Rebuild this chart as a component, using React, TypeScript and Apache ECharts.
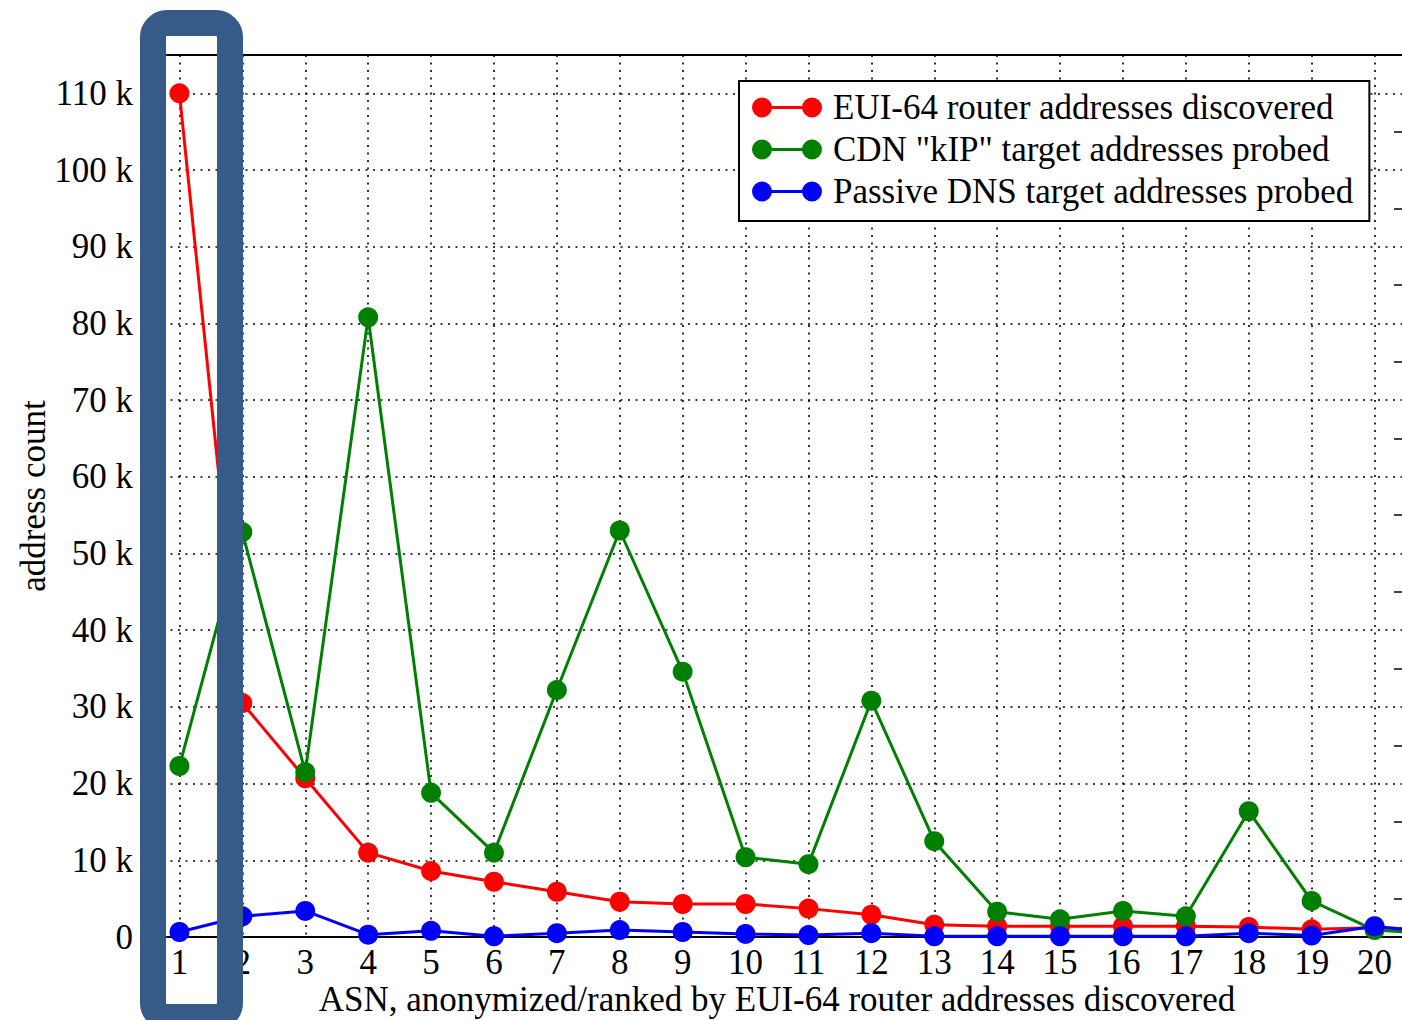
import React, { useEffect, useRef } from "react";
import * as echarts from "echarts";

// ASN rank (x); point 21 only continues the lines past the right edge
const asnRanks = [1, 2, 3, 4, 5, 6, 7, 8, 9, 10, 11, 12, 13, 14, 15, 16, 17, 18, 19, 20, 21];
const xTickValues = [1, 2, 3, 4, 5, 6, 7, 8, 9, 10, 11, 12, 13, 14, 15, 16, 17, 18, 19, 20];

const euiRouters = [110000, 30500, 20700, 11000, 8600, 7200, 5900, 4600, 4300, 4300, 3700, 2900, 1600, 1400, 1400, 1400, 1400, 1300, 1000, 1200, 1000];
const cdnKip = [22300, 52800, 21500, 80800, 18800, 11000, 32200, 53000, 34600, 10400, 9500, 30800, 12500, 3300, 2300, 3400, 2700, 16400, 4700, 900, 400];
const passiveDns = [650, 2700, 3400, 300, 800, 100, 500, 900, 650, 400, 250, 500, 100, 100, 100, 100, 100, 500, 200, 1400, 500];

const seriesNames = [
  "EUI-64 router addresses discovered",
  'CDN "kIP" target addresses probed',
  "Passive DNS target addresses probed",
];
const seriesColors = ["#ff0000", "#008000", "#0000ff"];

const yMax = 115000;
const rightMinorTicks = [5000, 15000, 25000, 35000, 45000, 55000, 65000, 75000, 85000, 95000, 105000];

const FONT = "'Liberation Serif', 'Times New Roman', Times, serif";
const FS = 35;
const LEGEND_ICON =
  "path://M0,10A10,10,0,1,1,20,10A10,10,0,1,1,0,10Z M50,10A10,10,0,1,1,70,10A10,10,0,1,1,50,10Z M18,8.5L52,8.5L52,11.5L18,11.5Z";

const gridLine = {
  show: true,
  lineStyle: { color: "#000", width: 1.6, type: [2, 5.5] as number[] },
};

export default function App() {
  const ref = useRef<HTMLDivElement>(null);

  useEffect(() => {
    document.body.style.margin = "0";
    if (!ref.current) return;
    const chart = echarts.init(ref.current, null, { renderer: "svg" });
    const allSeries = [euiRouters, cdnKip, passiveDns];

    chart.setOption({
      animation: false,
      backgroundColor: "#fff",
      textStyle: { fontFamily: FONT, color: "#000" },
      grid: {
        left: 148,
        top: 55,
        width: 1258,
        bottom: 83,
        containLabel: false,
        outerBoundsMode: "none",
        show: true,
        borderColor: "#000",
        borderWidth: 2,
        backgroundColor: "transparent",
      },
      legend: {
        data: seriesNames,
        orient: "vertical",
        left: 739,
        top: 81,
        padding: [7, 16, 10, 13],
        itemWidth: 70,
        itemHeight: 20,
        itemGap: 3,
        icon: LEGEND_ICON,
        borderColor: "#000",
        borderWidth: 2,
        backgroundColor: "#fff",
        selectedMode: false,
        textStyle: {
          fontFamily: FONT,
          fontSize: FS,
          lineHeight: 39,
          color: "#000",
          padding: [0, 0, 0, 6],
        },
      },
      xAxis: {
        type: "value",
        min: 0.5,
        max: 20.5,
        name: "ASN, anonymized/ranked by EUI-64 router addresses discovered",
        nameLocation: "middle",
        nameGap: 47,
        nameMoveOverlap: false,
        nameTextStyle: { fontFamily: FONT, fontSize: FS, lineHeight: 30, color: "#000" },
        axisLine: { show: true, onZero: true, lineStyle: { color: "#000", width: 2 } },
        axisTick: { show: false, customValues: xTickValues },
        axisLabel: {
          customValues: xTickValues,
          fontFamily: FONT,
          fontSize: FS,
          lineHeight: 30,
          color: "#000",
          margin: 10,
        },
        splitLine: gridLine,
      },
      yAxis: [
        {
          type: "value",
          min: 0,
          max: yMax,
          interval: 10000,
          name: "address count",
          nameLocation: "middle",
          nameGap: 97,
          nameMoveOverlap: false,
          nameTextStyle: { fontFamily: FONT, fontSize: FS, color: "#000" },
          axisLine: { show: true, lineStyle: { color: "#000", width: 2 } },
          axisTick: { show: false },
          axisLabel: {
            fontFamily: FONT,
            fontSize: FS,
            color: "#000",
            margin: 15,
            showMaxLabel: false,
            formatter: (v: number) => (v === 0 ? "0" : v >= yMax ? "" : `${v / 1000} k`),
          },
          splitLine: gridLine,
        },
        {
          type: "value",
          position: "right",
          min: 0,
          max: yMax,
          interval: 10000,
          axisLine: { show: true, lineStyle: { color: "#000", width: 2 } },
          axisTick: {
            show: true,
            inside: true,
            length: 12,
            customValues: rightMinorTicks,
            lineStyle: { color: "#000", width: 1.5 },
          },
          axisLabel: { show: false },
          splitLine: { show: false },
        },
      ],
      series: allSeries.map((vals, s) => ({
        name: seriesNames[s],
        type: "line",
        yAxisIndex: 0,
        data: asnRanks.map((x, i) => [x, vals[i]]),
        symbol: "circle",
        symbolSize: 20,
        color: seriesColors[s],
        itemStyle: { color: seriesColors[s] },
        lineStyle: { color: seriesColors[s], width: 3 },
        emphasis: { disabled: true },
        z: 3 + s,
        clip: true,
      })),
      graphic: [
        {
          type: "rect",
          z: 100,
          shape: { x: 153, y: 23, width: 77, height: 994, r: 14 },
          style: { fill: "none", stroke: "#375b88", lineWidth: 26 },
          silent: true,
        },
      ],
    });

    return () => chart.dispose();
  }, []);

  return <div ref={ref} style={{ width: 1402, height: 1020 }} />;
}
